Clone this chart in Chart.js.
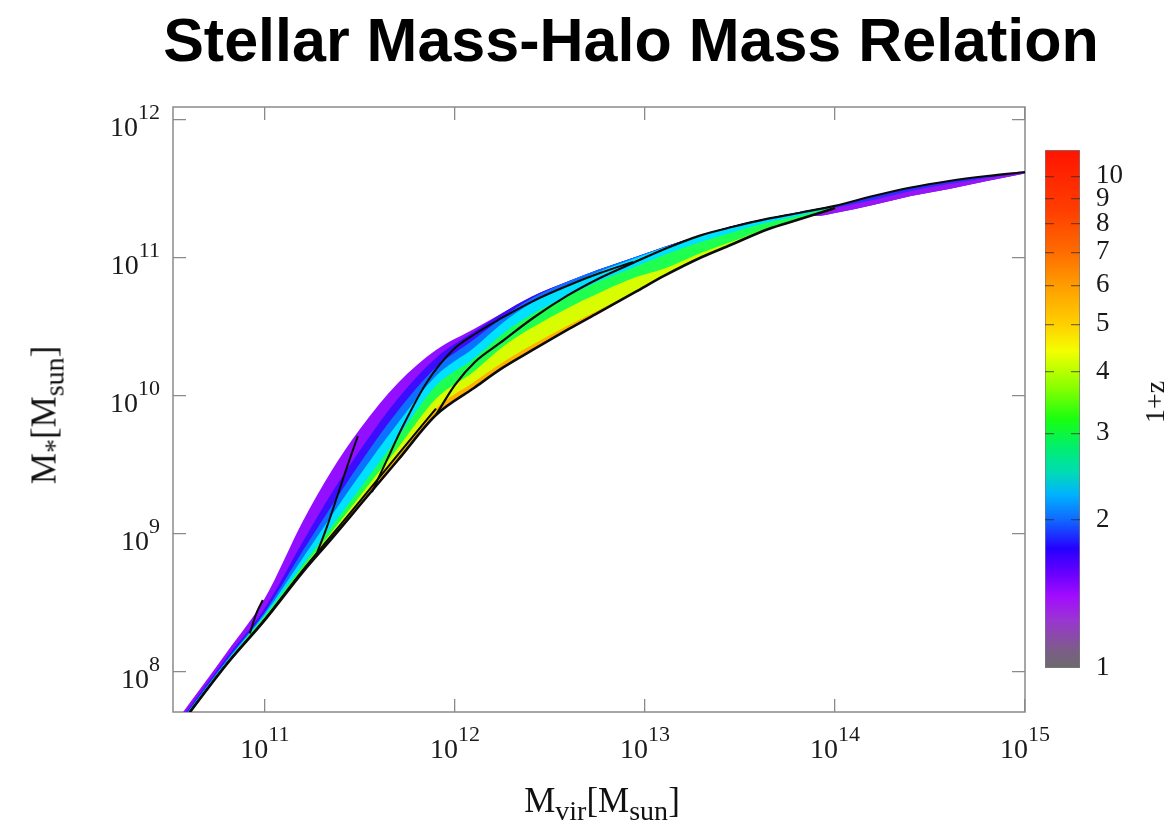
<!DOCTYPE html>
<html>
<head>
<meta charset="utf-8">
<script src="https://cdn.jsdelivr.net/npm/chart.js@4.4.1/dist/chart.umd.min.js"></script>
<style>
html,body{margin:0;padding:0;background:#fff;}
#wrap{position:relative;width:1173px;height:829px;overflow:hidden;background:#fff;}
canvas{position:absolute;}
.t{position:absolute;white-space:nowrap;color:#111;}
#title{left:631px;top:10px;transform:translateX(-50%);font-family:'Liberation Sans',Arial,sans-serif;font-weight:bold;font-size:61px;line-height:61px;color:#000;}
.ax{font-family:'Liberation Serif','Times New Roman',serif;font-size:35px;line-height:35px;}
.ax sub{font-size:0.8em;vertical-align:-0.3em;line-height:0;}
#xtitle{left:602px;top:783px;transform:translateX(-50%);}
#ytitle{left:44px;top:415px;transform:translate(-50%,-50%) rotate(-90deg);}
#ztitle{left:1155px;top:402px;transform:translate(-50%,-50%) rotate(-90deg);font-family:'Liberation Serif','Times New Roman',serif;font-size:28px;line-height:28px;}
.tk{position:absolute;white-space:nowrap;color:#1a1a1a;font-family:'Liberation Serif','Times New Roman',serif;font-size:28px;line-height:27px;}
.tk sup{font-size:22px;vertical-align:17px;line-height:0;}
</style>
</head>
<body>
<div id="wrap">
<canvas id="main" width="1173" height="829" style="left:0;top:0;"></canvas>
<canvas id="cbar" width="143" height="829" style="left:1030px;top:0;"></canvas>
<div id="title" class="t">Stellar Mass-Halo Mass Relation</div>
<div id="xtitle" class="t ax">M<sub>vir</sub>[M<sub>sun</sub>]</div>
<div id="ytitle" class="t ax">M<sub>*</sub>[M<sub>sun</sub>]</div>
<div id="ztitle" class="t">1+z</div>
</div>
<script>
// ===================== DATA (log10 values) =====================
// halo-mass grid for the coloured band, log10(Mvir / Msun)
const massGrid = [10.55, 10.8, 11.0, 11.2, 11.35, 11.5, 11.7, 11.9, 12.1, 12.25, 12.4, 12.6, 12.75, 12.95, 13.1, 13.3, 13.45, 13.65, 13.8, 14.0];
// colour-band boundaries, log10(M* / Msun), from upper edge to lower edge
const bandUpperEdge   = [7.674, 8.145, 8.536, 9.094, 9.457, 9.761, 10.094, 10.333, 10.486, 10.601, 10.717, 10.833, 10.913, 11.007, 11.080, 11.167, 11.228, 11.290, 11.330, 11.380];
const bandPurpleEdge  = [7.645, 8.106, 8.464, 8.946, 9.294, 9.607, 9.982, 10.276, 10.465, 10.601, 10.717, 10.833, 10.913, 11.007, 11.080, 11.167, 11.228, 11.290, 11.330, 11.380];
const bandIndigoEdge  = [7.634, 8.091, 8.437, 8.880, 9.201, 9.513, 9.893, 10.206, 10.409, 10.569, 10.705, 10.833, 10.913, 11.007, 11.080, 11.167, 11.228, 11.290, 11.330, 11.380];
const bandBlueEdge    = [7.627, 8.082, 8.422, 8.828, 9.132, 9.430, 9.804, 10.145, 10.349, 10.529, 10.670, 10.805, 10.897, 11.000, 11.076, 11.164, 11.225, 11.286, 11.325, 11.376];
const bandCyanEdge    = [7.622, 8.075, 8.409, 8.777, 9.053, 9.331, 9.703, 10.074, 10.272, 10.450, 10.588, 10.729, 10.826, 10.936, 11.021, 11.119, 11.181, 11.258, 11.303, 11.369];
const bandGreenEdge   = [7.617, 8.068, 8.396, 8.755, 9.013, 9.276, 9.625, 9.980, 10.178, 10.354, 10.490, 10.642, 10.741, 10.860, 10.922, 11.039, 11.114, 11.218, 11.278, 11.362];
const bandYellowEdge  = [7.612, 8.062, 8.385, 8.740, 8.989, 9.238, 9.575, 9.909, 10.101, 10.243, 10.365, 10.514, 10.617, 10.761, 10.870, 11.007, 11.094, 11.210, 11.275, 11.362];
const bandLowerEdge   = [7.609, 8.058, 8.377, 8.725, 8.964, 9.210, 9.536, 9.862, 10.058, 10.203, 10.326, 10.486, 10.601, 10.754, 10.870, 11.007, 11.094, 11.210, 11.275, 11.362];

// high-mass end of the band (low-z part lies below)
const highMassGrid = [13.8, 13.9, 14.0, 14.2, 14.4, 14.6, 14.8, 15.0];
const highUpper    = [11.330, 11.355, 11.380, 11.449, 11.514, 11.558, 11.594, 11.623];
const highMiddle   = [11.327, 11.333, 11.362, 11.420, 11.486, 11.536, 11.580, 11.619];
const highLower    = [11.323, 11.304, 11.326, 11.384, 11.449, 11.500, 11.558, 11.612];

// black tracks, log10 Mvir and log10 M*
const track1Mvir  = [10.920, 10.958, 10.989];
const track1Mstar = [8.280, 8.435, 8.522];
const track2Mvir  = [11.268, 11.326, 11.379, 11.432, 11.489];
const track2Mstar = [8.841, 9.051, 9.268, 9.486, 9.710];
const track3Mvir  = [11.563, 11.647, 11.721, 11.853, 11.989, 12.105, 12.237, 12.411, 12.589, 12.763, 12.937];
const track3Mstar = [9.304, 9.551, 9.768, 10.101, 10.333, 10.449, 10.558, 10.688, 10.797, 10.891, 10.971];
const track4Mvir  = [11.900, 12.000, 12.105, 12.237, 12.411, 12.589, 12.763, 12.937, 13.116, 13.289, 13.463, 13.642, 13.816, 14.000, 14.200, 14.400, 14.600, 14.800, 15.000];
const track4Mstar = [9.862, 10.080, 10.246, 10.384, 10.565, 10.725, 10.855, 10.964, 11.072, 11.162, 11.226, 11.283, 11.328, 11.378, 11.449, 11.511, 11.558, 11.594, 11.623];

// axes
const xTickValues = [11, 12, 13, 14, 15];
const xTickLabels = ['10^11', '10^12', '10^13', '10^14', '10^15'];
const yTickValues = [8, 9, 10, 11, 12];
const yTickLabels = ['10^8', '10^9', '10^10', '10^11', '10^12'];
const xRange = [10.516, 15.0];
const yRange = [7.710, 12.094];

// colour bar (1+z)
const cbRange = [1, 11.3];
const cbTickValues = [1, 2, 3, 4, 5, 6, 7, 8, 9, 10];
const cbTickLabels = ['1', '2', '3', '4', '5', '6', '7', '8', '9', '10'];
const cbStopValues = [1.0, 1.1, 1.25, 1.4, 1.55, 1.75, 2.0, 2.25, 2.5, 2.8, 3.2, 3.7, 4.4, 5.0, 6.0, 7.0, 8.5, 11.3];

// ===================== STYLES =====================
const cbStopColors = ['#6c6c6c', '#7e5a8e', '#9a35d2', '#a20cff', '#6a00ff', '#2600ff', '#1068ff', '#00b2ff', '#00dcb4', '#00ee70', '#18ff10', '#86ff00', '#f2ff00', '#ffd000', '#ff9c00', '#ff6c00', '#ff3e00', '#ff1400'];
const bandFillColors = ['#9210ff', '#3c0cff', '#0a72ff', '#00e0ff', '#1eff50', '#d8fc00', '#ffb000'];
const highFillColors = ['#2f2cff', '#9b14f5'];
const lineBlack = '#0b0b0b';
const FONT_SERIF = "'Liberation Serif','Times New Roman',serif";

// ===================== BUILD =====================
const P = v => Math.pow(10, v);
const pts = (xs, ys) => xs.map((x, i) => ({x: P(x), y: P(ys[i])}));

const datasets = [];
function addLine(xs, ys, width) {
  datasets.push({data: pts(xs, ys), borderColor: lineBlack, borderWidth: width, pointRadius: 0, fill: false,
    cubicInterpolationMode: 'monotone', order: 0});
}
// black lines on top
addLine(track1Mvir, track1Mstar, 2);
addLine(track2Mvir, track2Mstar, 2);
addLine(track3Mvir, track3Mstar, 2);
addLine(track4Mvir, track4Mstar, 2.2);
addLine(massGrid, bandLowerEdge, 2.6);
addLine(massGrid.slice(0, 8), bandYellowEdge.slice(0, 8), 2);

// high-mass band
const highBounds = [highUpper, highMiddle, highLower];
const highStart = datasets.length;
highBounds.forEach((b, i) => {
  const last = i === highBounds.length - 1;
  datasets.push({data: pts(highMassGrid, b), borderColor: 'rgba(0,0,0,0)', borderWidth: 1, pointRadius: 0,
    backgroundColor: last ? 'rgba(0,0,0,0)' : highFillColors[i],
    fill: last ? false : highStart + highBounds.length - 1,
    cubicInterpolationMode: 'monotone', order: 200 - i});
});

// main colour band
const bandBounds = [bandUpperEdge, bandPurpleEdge, bandIndigoEdge, bandBlueEdge, bandCyanEdge, bandGreenEdge, bandYellowEdge, bandLowerEdge];
const bandStart = datasets.length;
bandBounds.forEach((b, i) => {
  const last = i === bandBounds.length - 1;
  datasets.push({data: pts(massGrid, b), borderColor: 'rgba(0,0,0,0)', borderWidth: 1, pointRadius: 0,
    backgroundColor: last ? 'rgba(0,0,0,0)' : bandFillColors[i],
    fill: last ? false : bandStart + bandBounds.length - 1,
    cubicInterpolationMode: 'monotone', order: 100 - i});
});

const framePlugin = {
  id: 'frame',
  beforeDatasetsDraw(chart) {
    const a = chart.chartArea, ctx = chart.ctx;
    ctx.save(); ctx.strokeStyle = '#8a8a8a'; ctx.lineWidth = 1.5;
    ctx.strokeRect(a.left, a.top, a.right - a.left, a.bottom - a.top);
    ctx.restore();
  }
};

const mainChart = new Chart(document.getElementById('main'), {
  type: 'line',
  data: {datasets},
  plugins: [framePlugin],
  options: {
    responsive: false, animation: false, devicePixelRatio: 1,
    layout: {padding: {top: 107, right: 148, left: 0, bottom: 0}},
    plugins: {legend: {display: false}, tooltip: {enabled: false}, title: {display: false}},
    scales: {
      x: {
        type: 'logarithmic', bounds: 'data', min: P(xRange[0]), max: P(xRange[1]),
        afterBuildTicks: s => { s.ticks = xTickValues.map(v => ({value: P(v)})); },
        afterFit: s => { s.height = 117; },
        ticks: {display: false, autoSkip: false, callback: (v, i) => xTickLabels[i]},
        grid: {drawTicks: false, color: '#8a8a8a', lineWidth: 1.3},
        border: {display: false, dash: [13, 579]}
      },
      y: {
        type: 'logarithmic', bounds: 'data', min: P(yRange[0]), max: P(yRange[1]),
        afterBuildTicks: s => { s.ticks = yTickValues.map(v => ({value: P(v)})); },
        afterFit: s => { s.width = 173; },
        ticks: {display: false, autoSkip: false, callback: (v, i) => yTickLabels[i]},
        grid: {drawTicks: false, color: '#8a8a8a', lineWidth: 1.3},
        border: {display: false, dash: [13, 826]}
      }
    }
  }
});

// tick labels with real superscripts, placed with the chart's own scales
(function placeTickLabels() {
  const wrap = document.getElementById('wrap');
  const mk = (txt) => {
    const [b, e] = txt.split('^');
    const d = document.createElement('div');
    d.className = 'tk';
    d.innerHTML = b + '<sup>' + e + '</sup>';
    wrap.appendChild(d);
    return d;
  };
  const sx = mainChart.scales.x, sy = mainChart.scales.y, a = mainChart.chartArea;
  xTickValues.forEach((v, i) => {
    const d = mk(xTickLabels[i]);
    d.style.left = sx.getPixelForValue(P(v)) + 'px';
    d.style.top = (a.bottom + 22) + 'px';
    d.style.transform = 'translateX(-50%)';
  });
  yTickValues.forEach((v, i) => {
    const d = mk(yTickLabels[i]);
    d.style.right = (1173 - (a.left - 13)) + 'px';
    d.style.top = (sy.getPixelForValue(P(v)) - 8) + 'px';
  });
})();

// colour bar
function cbGradient(c) {
  const ch = c.chart, a = ch.chartArea;
  if (!a || !ch.scales.y) return '#888';
  const ys = ch.scales.y;
  const g = ch.ctx.createLinearGradient(0, a.bottom, 0, a.top);
  cbStopValues.forEach((v, i) => {
    const p = (a.bottom - ys.getPixelForValue(v)) / (a.bottom - a.top);
    g.addColorStop(Math.min(1, Math.max(0, p)), cbStopColors[i]);
  });
  return g;
}

new Chart(document.getElementById('cbar'), {
  type: 'bar',
  data: {labels: ['1+z'], datasets: [{data: [cbRange], backgroundColor: cbGradient, borderColor: '#7a7a7a',
    borderWidth: 1, borderSkipped: false, barPercentage: 1, categoryPercentage: 1}]},
  options: {
    responsive: false, animation: false, devicePixelRatio: 1,
    layout: {padding: {left: 15, top: 150, bottom: 161, right: 0}},
    plugins: {legend: {display: false}, tooltip: {enabled: false}},
    scales: {
      x: {display: false},
      y: {
        type: 'logarithmic', position: 'right', bounds: 'data', min: cbRange[0], max: cbRange[1],
        afterBuildTicks: s => { s.ticks = cbTickValues.map(v => ({value: v})); },
        afterFit: s => { s.width = 93; },
        ticks: {autoSkip: false, padding: 16, font: {family: FONT_SERIF, size: 27}, color: '#1a1a1a',
          callback: (v, i) => cbTickLabels[i]},
        grid: {drawTicks: false, lineWidth: 1.2, z: 1,
          color: c => (c.tick && c.tick.value === 1) ? 'rgba(0,0,0,0)' : 'rgba(40,40,40,0.6)'},
        border: {display: false, dash: [9, 17], dashOffset: 0}
      }
    }
  }
});
</script>
</body>
</html>
